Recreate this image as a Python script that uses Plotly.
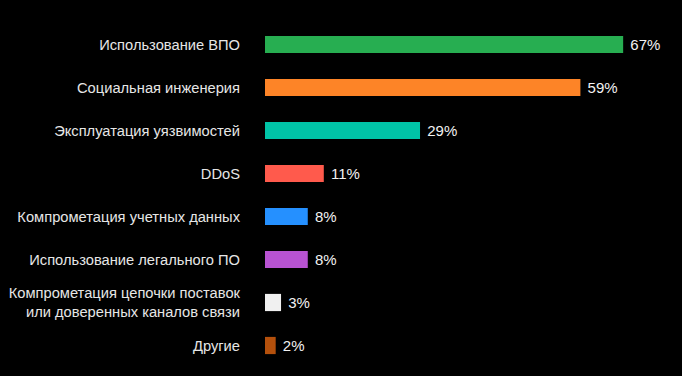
import plotly.graph_objects as go

categories = [
    "Использование ВПО",
    "Социальная инженерия",
    "Эксплуатация уязвимостей",
    "DDoS",
    "Компрометация учетных данных",
    "Использование легального ПО",
    "Компрометация цепочки поставок<br>или доверенных каналов связи",
    "Другие",
]
values = [67, 59, 29, 11, 8, 8, 3, 2]
colors = ["#27ae51", "#fd8427", "#00c4a7", "#ff5a4c", "#2590ff", "#b853d2", "#f0f0f0", "#b4500c"]

FONT = "Liberation Sans, Arial, sans-serif"

fig = go.Figure(
    go.Bar(
        x=values,
        y=categories,
        orientation="h",
        marker=dict(color=colors, line=dict(width=0)),
        width=0.4,
        texttemplate=" %{x}%",
        textposition="outside",
        textfont=dict(color="#f2f2f2", size=15, family=FONT),
        cliponaxis=False,
    )
)

fig.update_layout(
    width=682,
    height=376,
    paper_bgcolor="#000000",
    plot_bgcolor="#000000",
    margin=dict(l=263, r=15, t=23, b=9),
    showlegend=False,
    font=dict(family=FONT, size=14.7, color="#e6e6e6"),
    xaxis=dict(range=[0, 75.2], visible=False, fixedrange=True),
    yaxis=dict(
        autorange="reversed",
        showgrid=False,
        zeroline=False,
        showline=False,
        ticks="",
        ticklabelstandoff=24,
        tickfont=dict(size=14.7, color="#e6e6e6", family=FONT),
        fixedrange=True,
    ),
)

fig.write_html(
    "out.html",
    config={"displayModeBar": False},
    post_script="document.body.style.margin='0';document.body.style.background='#000';",
)
